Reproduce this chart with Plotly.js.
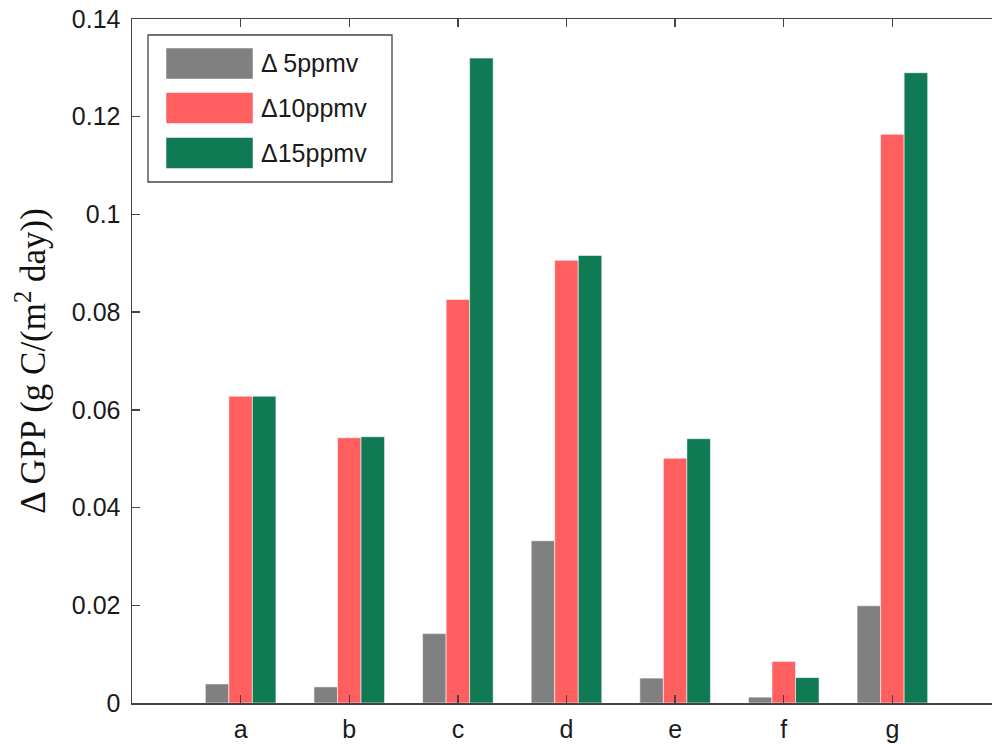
<!DOCTYPE html>
<html>
<head>
<meta charset="utf-8">
<script src="https://cdn.plot.ly/plotly-3.0.1.min.js"></script>
<style>
  html, body { margin: 0; padding: 0; overflow: hidden; background: #fff; }
  #chart { width: 1010px; height: 744px; }
</style>
</head>
<body>
<div id="chart"></div>
<script>
// Sites and GPP increase for each CO2 perturbation level
const sites = ['a', 'b', 'c', 'd', 'e', 'f', 'g'];
const sitePos = [1, 2, 3, 4, 5, 6, 7];
const seriesNames = ['\u0394 5ppmv', '\u039410ppmv', '\u039415ppmv'];
const gpp5 = [0.0039, 0.0033, 0.0142, 0.0332, 0.0051, 0.0012, 0.0199];
const gpp10 = [0.0628, 0.0543, 0.0826, 0.0906, 0.0501, 0.0085, 0.1164];
const gpp15 = [0.0628, 0.0545, 0.1320, 0.0916, 0.0541, 0.0052, 0.1290];
const seriesColors = ['#808080', '#FF5F5F', '#107A54'];
const yTicks = [0, 0.02, 0.04, 0.06, 0.08, 0.1, 0.12, 0.14];

const allSeries = [gpp5, gpp10, gpp15];

const traces = allSeries.map((vals, i) => ({
  type: 'bar',
  x: sitePos,
  y: vals,
  name: seriesNames[i],
  marker: {
    color: seriesColors[i],
    line: { color: 'rgba(255,255,255,0.55)', width: 1 }
  },
  showlegend: false,
  hoverinfo: 'x+y'
}));

// Hand-drawn legend box with wide swatches
const legendShapes = [{
  type: 'rect', xref: 'paper', yref: 'paper',
  x0: (148 - 132) / 869, x1: (392 - 132) / 869,
  y0: (703 - 182) / 684, y1: (703 - 35) / 684,
  line: { color: '#444', width: 1.3 }, fillcolor: '#fff', layer: 'above'
}];
const legendNotes = [];
const swatchTops = [48, 92.5, 137.5];
seriesNames.forEach((name, i) => {
  const top = swatchTops[i], bot = top + 31;
  legendShapes.push({
    type: 'rect', xref: 'paper', yref: 'paper',
    x0: (166 - 132) / 869, x1: (253 - 132) / 869,
    y0: (703 - bot) / 684, y1: (703 - top) / 684,
    line: { color: 'rgba(255,255,255,0.5)', width: 1 },
    fillcolor: seriesColors[i], layer: 'above'
  });
  legendNotes.push({
    xref: 'paper', yref: 'paper',
    x: (259 - 132) / 869, y: (703 - (top + 15.5)) / 684,
    xanchor: 'left', yanchor: 'middle', showarrow: false,
    text: name,
    font: { family: 'Liberation Sans, Arial, sans-serif', size: 25, color: '#1a1a1a' }
  });
});

const layout = {
  width: 1010,
  height: 744,
  margin: { l: 132, r: 9, t: 19, b: 41 },
  paper_bgcolor: '#fff',
  plot_bgcolor: '#fff',
  barmode: 'group',
  bargap: 0.35,
  bargroupgap: 0,
  font: { family: 'Liberation Sans, Arial, sans-serif', size: 25, color: '#1a1a1a' },
  xaxis: {
    range: [0, 8],
    tickvals: sitePos,
    ticktext: sites,
    ticks: 'inside',
    ticklen: 8,
    tickwidth: 1.3,
    tickcolor: '#444',
    showline: true,
    linecolor: '#444',
    linewidth: 1.5,
    mirror: 'ticks',
    showgrid: false,
    zeroline: false,
    tickfont: { size: 25 },
    ticklabelstandoff: 3
  },
  yaxis: {
    range: [0, 0.14],
    tickvals: yTicks,
    ticktext: yTicks.map(String),
    ticks: 'inside',
    ticklen: 8,
    tickwidth: 1.3,
    tickcolor: '#444',
    showline: true,
    linecolor: '#444',
    linewidth: 1.5,
    mirror: 'ticks',
    showgrid: false,
    zeroline: false,
    tickfont: { size: 25 },
    ticklabelstandoff: 5,
    title: {
      text: '\u0394 GPP (g C/(m<sup>2</sup> day))',
      font: { family: 'Liberation Serif, Times New Roman, serif', size: 35, color: '#111' },
      standoff: 15
    }
  },
  shapes: legendShapes,
  annotations: legendNotes
};

Plotly.newPlot('chart', traces, layout, { displayModeBar: false, staticPlot: true });
</script>
</body>
</html>
